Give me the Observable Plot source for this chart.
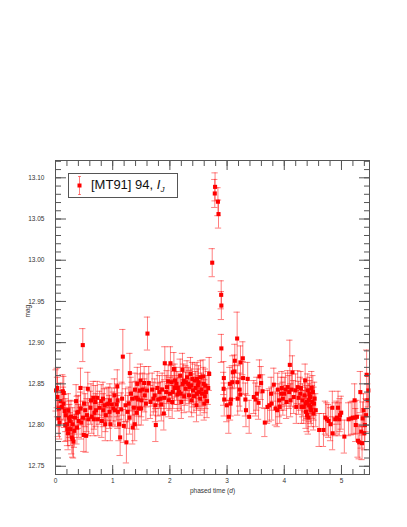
<!DOCTYPE html>
<html>
<head>
<meta charset="utf-8">
<script src="https://cdn.jsdelivr.net/npm/d3@7"></script>
<script src="https://cdn.jsdelivr.net/npm/@observablehq/plot@0.6"></script>
<style>
  html, body { margin: 0; padding: 0; background: #fff; }
  #wrap { position: relative; width: 407px; height: 527px; font-family: "Liberation Sans", Arial, Helvetica, sans-serif; }
  #legend { position: absolute; left: 68px; top: 173px; width: 108px; height: 23px; border: 1px solid #555; background: #fff; }
  #legend svg { position: absolute; left: 0; top: 0; }
  #legend .lab { position: absolute; left: 22px; top: 4px; font-size: 13px; color: #111; white-space: nowrap; line-height: 14px; }
  #legend sub { font-size: 8px; font-style: italic; vertical-align: -3px; }
</style>
</head>
<body>
<div id="wrap">
  <div id="chart"></div>
  <div id="legend">
    <svg width="24" height="25">
      <line x1="10.5" x2="10.5" y1="2.5" y2="20.5" stroke="red" stroke-opacity="0.5"/>
      <line x1="9" x2="12" y1="2.5" y2="2.5" stroke="red" stroke-opacity="0.5"/>
      <line x1="9" x2="12" y1="20.5" y2="20.5" stroke="red" stroke-opacity="0.5"/>
      <rect x="8.5" y="9.5" width="4" height="4" fill="red"/>
    </svg>
    <div class="lab">[MT91] 94, <i>I</i><sub>J</sub></div>
  </div>
</div>
<script>
// phase (d), magnitude, 1-sigma error
const observations = [
[0.01,12.842,0.025],[0.03,12.845,0.024],[0.035,12.834,0.024],[0.05,12.808,0.022],[0.06,12.820,0.022],[0.07,12.803,0.02],[0.09,12.829,0.022],[0.11,12.822,0.02],[0.128,12.841,0.02],[0.14,12.826,0.02],
[0.145,12.839,0.02],[0.16,12.817,0.02],[0.17,12.800,0.02],[0.18,12.812,0.02],[0.20,12.801,0.02],[0.21,12.795,0.02],[0.22,12.790,0.02],[0.225,12.818,0.02],[0.235,12.809,0.02],[0.25,12.805,0.02],
[0.26,12.795,0.02],[0.27,12.810,0.02],[0.285,12.785,0.02],[0.30,12.783,0.022],[0.30,12.801,0.02],[0.315,12.780,0.02],[0.33,12.793,0.02],[0.34,12.809,0.02],[0.36,12.829,0.02],[0.375,12.797,0.02],
[0.38,12.815,0.02],[0.40,12.816,0.02],[0.405,12.805,0.02],[0.437,12.845,0.024],[0.44,12.820,0.02],[0.45,12.803,0.02],[0.477,12.897,0.02],[0.48,12.809,0.02],[0.495,12.788,0.02],[0.50,12.826,0.02],
[0.52,12.818,0.02],[0.535,12.787,0.02],[0.55,12.812,0.02],[0.565,12.844,0.02],[0.575,12.807,0.02],[0.61,12.821,0.02],[0.62,12.830,0.02],[0.635,12.810,0.02],[0.66,12.833,0.02],[0.67,12.807,0.02],
[0.68,12.815,0.02],[0.695,12.828,0.02],[0.71,12.818,0.02],[0.73,12.833,0.02],[0.74,12.807,0.02],[0.77,12.821,0.02],[0.80,12.829,0.02],[0.81,12.805,0.02],[0.83,12.832,0.02],[0.835,12.818,0.02],
[0.857,12.824,0.02],[0.87,12.801,0.02],[0.88,12.812,0.02],[0.90,12.825,0.02],[0.925,12.826,0.02],[0.944,12.816,0.02],[0.95,12.830,0.02],[0.96,12.801,0.02],[0.985,12.825,0.02],[1.01,12.820,0.02],
[1.03,12.836,0.02],[1.04,12.818,0.02],[1.07,12.825,0.02],[1.08,12.847,0.02],[1.085,12.830,0.02],[1.09,12.816,0.02],[1.11,12.801,0.02],[1.13,12.785,0.022],[1.15,12.819,0.02],[1.165,12.832,0.02],
[1.177,12.883,0.033],[1.195,12.799,0.02],[1.224,12.824,0.02],[1.24,12.779,0.025],[1.26,12.816,0.02],[1.28,12.826,0.02],[1.295,12.809,0.02],[1.30,12.863,0.024],[1.32,12.838,0.02],[1.34,12.832,0.02],
[1.35,12.797,0.02],[1.37,12.821,0.02],[1.385,12.801,0.02],[1.39,12.843,0.02],[1.41,12.833,0.02],[1.42,12.815,0.02],[1.43,12.850,0.02],[1.445,12.831,0.02],[1.455,12.820,0.02],[1.475,12.842,0.02],
[1.486,12.854,0.02],[1.50,12.820,0.02],[1.505,12.830,0.02],[1.525,12.843,0.02],[1.55,12.851,0.02],[1.56,12.836,0.02],[1.58,12.826,0.02],[1.60,12.842,0.02],[1.608,12.911,0.02],[1.63,12.851,0.02],
[1.66,12.828,0.02],[1.69,12.843,0.02],[1.71,12.832,0.02],[1.735,12.836,0.02],[1.748,12.824,0.02],[1.754,12.800,0.02],[1.78,12.845,0.02],[1.795,12.831,0.02],[1.818,12.840,0.02],[1.835,12.832,0.02],
[1.85,12.825,0.02],[1.865,12.843,0.02],[1.894,12.814,0.02],[1.90,12.833,0.02],[1.911,12.875,0.02],[1.935,12.840,0.02],[1.95,12.846,0.02],[1.97,12.853,0.02],[1.98,12.830,0.02],[2.00,12.838,0.02],
[2.01,12.875,0.02],[2.03,12.852,0.02],[2.04,12.828,0.02],[2.05,12.840,0.02],[2.07,12.868,0.02],[2.08,12.845,0.02],[2.09,12.854,0.02],[2.115,12.850,0.02],[2.13,12.837,0.02],[2.14,12.845,0.02],
[2.16,12.840,0.02],[2.18,12.860,0.02],[2.19,12.838,0.02],[2.20,12.828,0.02],[2.22,12.867,0.02],[2.225,12.850,0.02],[2.24,12.854,0.02],[2.25,12.835,0.02],[2.275,12.844,0.02],[2.28,12.852,0.02],
[2.30,12.858,0.02],[2.32,12.850,0.02],[2.335,12.836,0.02],[2.34,12.846,0.02],[2.36,12.862,0.02],[2.375,12.848,0.02],[2.38,12.830,0.02],[2.395,12.856,0.02],[2.405,12.842,0.02],[2.42,12.835,0.02],
[2.435,12.854,0.02],[2.45,12.845,0.02],[2.465,12.824,0.02],[2.47,12.838,0.02],[2.475,12.856,0.02],[2.49,12.848,0.02],[2.50,12.852,0.02],[2.51,12.840,0.02],[2.53,12.832,0.02],[2.535,12.858,0.02],
[2.55,12.843,0.02],[2.56,12.838,0.02],[2.58,12.859,0.02],[2.59,12.850,0.02],[2.60,12.826,0.02],[2.61,12.835,0.02],[2.62,12.848,0.02],[2.63,12.840,0.02],[2.65,12.829,0.02],[2.67,12.845,0.02],
[2.687,12.862,0.02],[2.74,12.997,0.017],[2.785,13.081,0.017],[2.79,13.089,0.017],[2.84,13.071,0.017],[2.85,13.056,0.017],[2.897,12.958,0.017],[2.90,12.945,0.017],[2.90,12.893,0.017],[2.94,12.844,0.02],
[2.943,12.857,0.02],[2.95,12.831,0.02],[2.995,12.824,0.02],[3.03,12.810,0.02],[3.048,12.850,0.02],[3.06,12.826,0.02],[3.07,12.831,0.02],[3.09,12.852,0.02],[3.10,12.864,0.02],[3.13,12.865,0.02],
[3.135,12.878,0.02],[3.176,12.905,0.032],[3.18,12.852,0.02],[3.185,12.832,0.02],[3.22,12.843,0.02],[3.23,12.837,0.02],[3.234,12.876,0.02],[3.275,12.881,0.02],[3.28,12.857,0.02],[3.32,12.831,0.02],
[3.33,12.818,0.02],[3.36,12.856,0.02],[3.386,12.810,0.02],[3.467,12.834,0.02],[3.50,12.831,0.02],[3.52,12.838,0.02],[3.55,12.827,0.02],[3.566,12.859,0.02],[3.595,12.851,0.02],[3.62,12.841,0.02],
[3.66,12.803,0.017],[3.706,12.822,0.02],[3.74,12.824,0.02],[3.77,12.838,0.02],[3.78,12.826,0.02],[3.817,12.849,0.02],[3.846,12.820,0.02],[3.875,12.818,0.02],[3.885,12.843,0.02],[3.91,12.830,0.02],
[3.92,12.822,0.02],[3.946,12.838,0.02],[3.957,12.845,0.02],[3.975,12.832,0.02],[4.00,12.838,0.02],[4.02,12.843,0.02],[4.04,12.828,0.02],[4.06,12.846,0.02],[4.085,12.840,0.02],[4.097,12.873,0.03],
[4.11,12.830,0.02],[4.125,12.843,0.02],[4.143,12.864,0.02],[4.165,12.834,0.02],[4.195,12.842,0.02],[4.21,12.822,0.02],[4.235,12.846,0.02],[4.25,12.833,0.02],[4.28,12.838,0.02],[4.29,12.845,0.02],
[4.30,12.822,0.02],[4.32,12.830,0.02],[4.34,12.822,0.02],[4.355,12.836,0.02],[4.365,12.854,0.02],[4.37,12.826,0.02],[4.38,12.816,0.02],[4.395,12.828,0.02],[4.40,12.812,0.02],[4.41,12.842,0.02],
[4.42,12.809,0.02],[4.43,12.830,0.02],[4.435,12.824,0.02],[4.44,12.838,0.02],[4.45,12.834,0.02],[4.46,12.822,0.02],[4.47,12.818,0.02],[4.48,12.845,0.02],[4.49,12.828,0.02],[4.50,12.840,0.02],
[4.51,12.814,0.02],[4.52,12.826,0.02],[4.53,12.832,0.02],[4.55,12.818,0.02],[4.61,12.794,0.02],[4.685,12.794,0.02],[4.72,12.809,0.02],[4.745,12.807,0.02],[4.775,12.805,0.02],[4.81,12.801,0.02],
[4.84,12.821,0.02],[4.845,12.790,0.02],[4.89,12.807,0.02],[4.92,12.809,0.02],[4.94,12.821,0.02],[4.96,12.807,0.02],[4.975,12.812,0.02],[4.995,12.815,0.02],[5.05,12.786,0.02],[5.125,12.807,0.02],
[5.17,12.808,0.02],[5.20,12.809,0.02],[5.23,12.830,0.02],[5.24,12.809,0.02],[5.25,12.800,0.02],[5.27,12.810,0.02],[5.29,12.781,0.02],[5.31,12.779,0.02],[5.33,12.840,0.025],[5.345,12.792,0.02],
[5.36,12.778,0.02],[5.37,12.808,0.02],[5.385,12.818,0.02],[5.40,12.790,0.02],[5.41,12.800,0.02],[5.43,12.812,0.02],[5.44,12.861,0.03],[5.46,12.830,0.02],[5.47,12.842,0.02]
];
const xMajorTicks = [0, 1, 2, 3, 4, 5];
const xMinorTicks = d3.range(0, 5.5, 0.2);
const yMajorTicks = [12.75, 12.80, 12.85, 12.90, 12.95, 13.00, 13.05, 13.10];
const yMinorTicks = d3.range(12.74, 13.125, 0.01);
const xDomain = [0, 5.49];
const yDomain = [12.74, 13.121];

const data = observations.map(([t, m, e]) => ({t, m, e}));
const capHalf = 0.055;
const ebar = {stroke: "red", strokeOpacity: 0.5, strokeWidth: 1};
const axisColor = "#555";
const tickLabelSize = 6.5;

const chart = Plot.plot({
  width: 407, height: 527,
  marginLeft: 55, marginRight: 38, marginTop: 160, marginBottom: 53,
  x: {domain: xDomain},
  y: {domain: yDomain},
  style: {fontFamily: "'Liberation Sans', Arial, Helvetica, sans-serif", background: "white", color: "#333"},
  marks: [
    Plot.ruleX(data, {x: "t", y1: d => d.m - d.e, y2: d => d.m + d.e, ...ebar}),
    Plot.ruleY(data, {y: d => d.m - d.e, x1: d => d.t - capHalf, x2: d => d.t + capHalf, ...ebar}),
    Plot.ruleY(data, {y: d => d.m + d.e, x1: d => d.t - capHalf, x2: d => d.t + capHalf, ...ebar}),
    Plot.dot(data, {x: "t", y: "m", fill: "red", r: 2.3, symbol: "square"}),
    Plot.frame({stroke: axisColor}),
    // inward ticks on all four sides
    Plot.axisX(xMajorTicks, {anchor: "bottom", tickSize: -9, fill: "none", stroke: axisColor, label: null}),
    Plot.axisX(xMinorTicks, {anchor: "bottom", tickSize: -5, fill: "none", stroke: axisColor, label: null}),
    Plot.axisX(xMajorTicks, {anchor: "top", tickSize: -9, fill: "none", stroke: axisColor, label: null}),
    Plot.axisX(xMinorTicks, {anchor: "top", tickSize: -5, fill: "none", stroke: axisColor, label: null}),
    Plot.axisY(yMajorTicks, {anchor: "left", tickSize: -11, fill: "none", stroke: axisColor, label: null}),
    Plot.axisY(yMinorTicks, {anchor: "left", tickSize: -6, fill: "none", stroke: axisColor, label: null}),
    Plot.axisY(yMajorTicks, {anchor: "right", tickSize: -11, fill: "none", stroke: axisColor, label: null}),
    Plot.axisY(yMinorTicks, {anchor: "right", tickSize: -6, fill: "none", stroke: axisColor, label: null}),
    // tick labels
    Plot.axisX(xMajorTicks, {anchor: "bottom", tickSize: 0, tickPadding: 4, fontSize: tickLabelSize, fill: "#333", label: null, tickFormat: d3.format("d")}),
    Plot.axisY(yMajorTicks, {anchor: "left", tickSize: 0, tickPadding: 11, fontSize: tickLabelSize, fill: "#333", label: null, tickFormat: d3.format(".2f")}),
    // axis titles
    Plot.text(["mag"], {frameAnchor: "left", dx: -28, rotate: -90, fontSize: 6.5, fill: "#333"}),
    Plot.text(["phased time (d)"], {frameAnchor: "bottom", dy: 18, fontSize: 6.5, fill: "#333"})
  ]
});
document.getElementById("chart").appendChild(chart);

// italicise the "d" of the x-axis title
d3.select(chart).selectAll("text").filter(function() { return this.textContent === "phased time (d)"; })
  .each(function() {
    const el = d3.select(this);
    el.text(null);
    el.append("tspan").text("phased time (");
    el.append("tspan").attr("font-style", "italic").text("d");
    el.append("tspan").text(")");
  });
</script>
</body>
</html>
